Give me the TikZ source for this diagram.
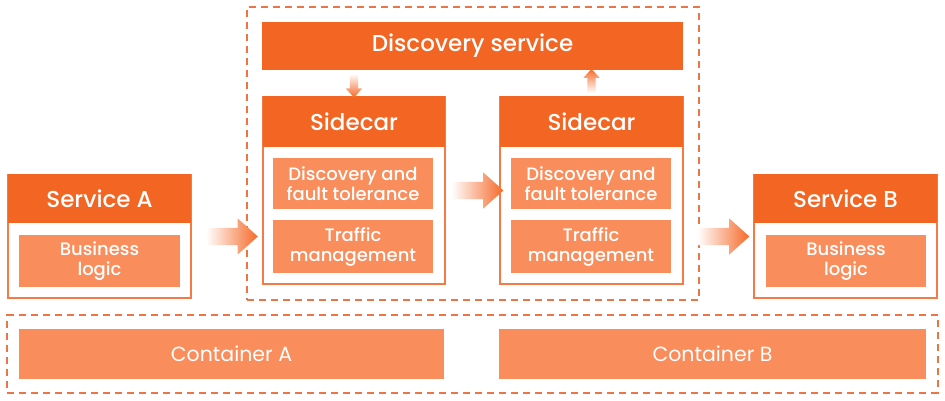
\documentclass[tikz,border=0pt]{standalone}
\usepackage{fontspec}
\setmainfont{Poppins}
\newfontfamily\medfont{Poppins Medium}
\usepackage{xcolor}
\usetikzlibrary{shapes.arrows, positioning, fit, calc, backgrounds}

\definecolor{hdrorange}{HTML}{F26522}
\definecolor{lightorange}{HTML}{FA8D5C}
\definecolor{frameorange}{HTML}{F47B45}
\definecolor{dashorange}{HTML}{EC7446}
\definecolor{arrorange}{HTML}{F56A2A}

\begin{document}
\begin{tikzpicture}[x=1pt, y=-1pt,
    frame/.style={draw=frameorange, line width=1.5pt, fill=white, minimum width=183pt, inner sep=0pt},
    head/.style={fill=hdrorange, text=white, inner sep=0pt, font=\medfont\fontsize{23}{26}\selectfont},
    part/.style={fill=lightorange, text=white, inner sep=0pt, align=center, font=\medfont\fontsize{18}{20}\selectfont},
    store/.style={fill=lightorange, text=white, inner sep=0pt, minimum height=50pt, font=\fontsize{20.5}{22}\selectfont},
    group/.style={draw=dashorange, line width=1.7pt, dash pattern=on 7pt off 5pt},
    fatarr/.style={single arrow, minimum height=52pt, inner sep=8.5pt, single arrow head extend=9.5pt,
        single arrow tip angle=84, draw=none, left color=white, right color=arrorange},
    thinarr/.style={single arrow, minimum height=24pt, inner sep=4pt, single arrow head extend=4pt,
        single arrow tip angle=84, draw=none},
]
\useasboundingbox (0,0) rectangle (945,401);

% Service A
\node[frame, minimum height=123pt] (svcA) at (99.5,236.5) {};
\node[head, minimum width=183pt, minimum height=49pt, anchor=north] (svcAhead) at (svcA.north) {Service A};
\node[part, minimum width=161pt, minimum height=52pt] (svcAlogic) at (99.5,261) {Business\\logic};

% Discovery service
\node[head, minimum width=421pt, minimum height=48pt] (disc) at (472.5,46) {Discovery service};

% Sidecar (left)
\node[frame, minimum width=182pt, minimum height=187pt] (sideA) at (354,190.5) {};
\node[head, minimum width=182pt, minimum height=51pt, anchor=north] (sideAhead) at (sideA.north) {Sidecar};
\node[part, minimum width=160pt, minimum height=51pt] (sideAfault) at (353,183.5) {Discovery and\\fault tolerance};
\node[part, minimum width=160pt, minimum height=53pt] (sideAtraffic) at (353,246.5) {Traffic\\management};

% Sidecar (right)
\node[frame, minimum height=187pt] (sideB) at (591.5,190.5) {};
\node[head, minimum width=183pt, minimum height=51pt, anchor=north] (sideBhead) at (sideB.north) {Sidecar};
\node[part, minimum width=160pt, minimum height=51pt] (sideBfault) at (591,183.5) {Discovery and\\fault tolerance};
\node[part, minimum width=160pt, minimum height=53pt] (sideBtraffic) at (591,246.5) {Traffic\\management};

% Service B
\node[frame, minimum height=123pt] (svcB) at (845.5,236.5) {};
\node[head, minimum width=183pt, minimum height=49pt, anchor=north] (svcBhead) at (svcB.north) {Service B};
\node[part, minimum width=160pt, minimum height=52pt] (svcBlogic) at (846,261) {Business\\logic};

% Containers
\node[store, minimum width=425pt] (contA) at (231.5,354) {Container A};
\node[store, minimum width=427pt] (contB) at (712.5,354) {Container B};

% Arrows along the request path
\node[fatarr] (toSideA) at ($(svcA.east)!0.5!(sideA.west |- svcA.east)$) {};
\node[fatarr] (toSideB) at ($(sideA.east)!0.5!(sideB.west)$) {};
\node[fatarr] (toSvcB) at ($(sideB.east |- svcB.west)!0.5!(svcB.west)$) {};

% Arrows to and from discovery
\node[thinarr, shape border rotate=270, top color=white, bottom color=arrorange] (discDown)
    at ($(disc.south -| sideA.north)!0.5!(sideA.north)$) {};
\node[thinarr, shape border rotate=90, bottom color=white, top color=arrorange] (discUp)
    at ($(disc.south -| sideB.north)!0.5!(sideB.north)$) {};

% Dashed groups
\begin{scope}[on background layer]
    \node[group, fit=(disc)(sideA)(sideB), inner sep=15pt] (mesh) {};
    \node[group, fit=(contA)(contB), inner xsep=11.5pt, inner ysep=13.5pt] (infra) {};
\end{scope}

\end{tikzpicture}
\end{document}
